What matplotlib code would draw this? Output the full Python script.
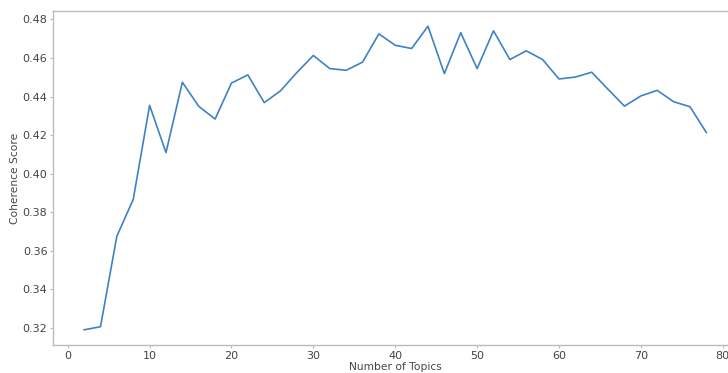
import matplotlib
matplotlib.use("Agg")
import matplotlib.pyplot as plt

# Coherence score for each number of topics
num_topics = list(range(2, 80, 2))
coherence = [
    0.3189, 0.3205, 0.3675, 0.3866, 0.4354, 0.4109, 0.4474, 0.4349, 0.4283, 0.4470,
    0.4512, 0.4368, 0.4430, 0.4525, 0.4613, 0.4545, 0.4536, 0.4578, 0.4725, 0.4666,
    0.4649, 0.4765, 0.4519, 0.4731, 0.4545, 0.4741, 0.4592, 0.4637, 0.4592, 0.4491,
    0.4501, 0.4526, 0.4437, 0.4350, 0.4403, 0.4432, 0.4373, 0.4347, 0.4213,
]

plt.rcParams["font.family"] = ["DejaVu Sans"]
text_color = "#444444"
spine_color = "#bbbbbb"

fig = plt.figure(figsize=(7.28, 3.73), dpi=100)
ax = fig.add_axes([0.0728, 0.0751, 0.9402, 0.8954])

ax.plot(num_topics, coherence, color="#3f82c4", linewidth=1.2)

ax.set_xlabel("Number of Topics", fontsize=7.7, color=text_color, labelpad=1)
ax.set_ylabel("Coherence Score", fontsize=7.7, color=text_color, labelpad=2)

ax.set_xticks(range(0, 90, 10))
ax.set_yticks([0.32, 0.34, 0.36, 0.38, 0.40, 0.42, 0.44, 0.46, 0.48])
ax.set_yticklabels([f"{v:.2f}" for v in ax.get_yticks()])

ax.tick_params(axis="both", labelsize=8, colors=spine_color, labelcolor=text_color,
               length=2.5, width=0.8, pad=1.5)
for side in ax.spines.values():
    side.set_color(spine_color)
    side.set_linewidth(1.0)

fig.savefig("out.png", dpi=100)
